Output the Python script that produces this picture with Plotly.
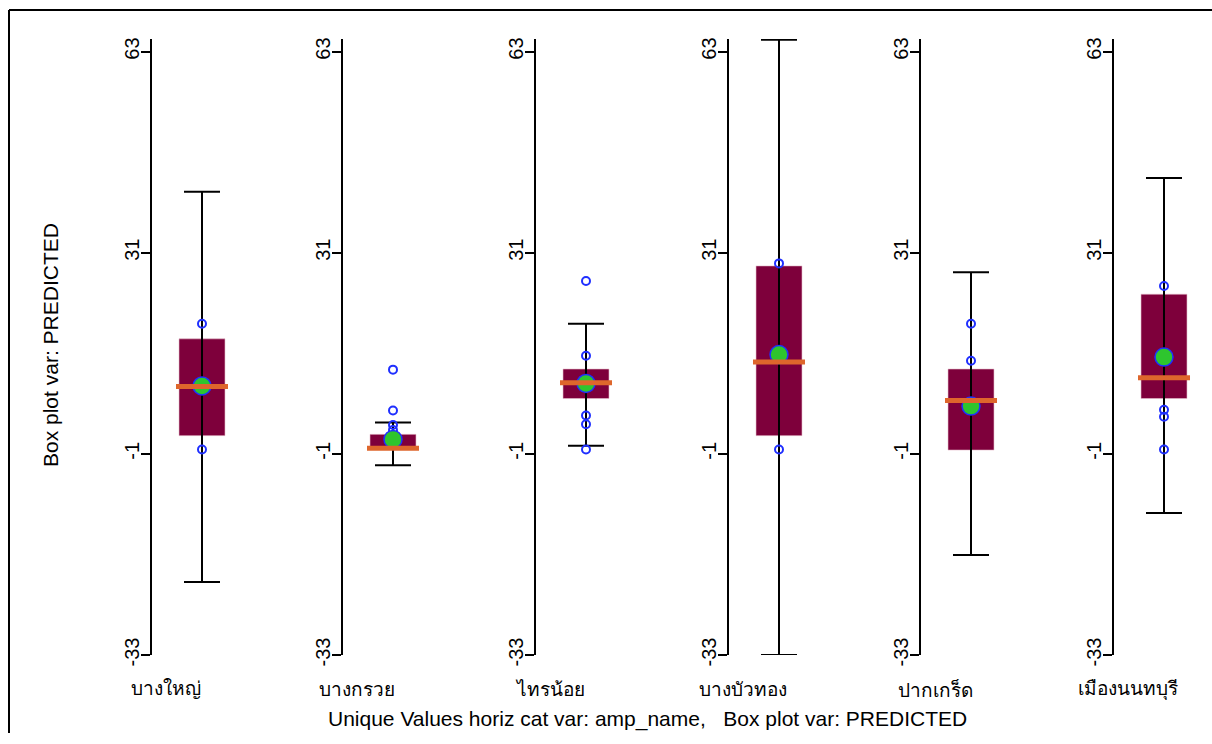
import plotly.graph_objects as go

categories = ["บางใหญ่", "บางกรวย", "ไทรน้อย", "บางบัวทอง", "ปากเกร็ด", "เมืองนนทบุรี"]
q1 = [1.9, -0.3, 7.8, 1.9, -0.4, 7.8]
median = [9.7, -0.1, 10.3, 13.6, 7.5, 11.1]
q3 = [17.3, 2.1, 12.5, 28.9, 12.5, 24.4]
lower_whisker = [-21.4, -2.8, 0.3, -33.0, -17.1, -10.4]
upper_whisker = [40.7, 4.0, 19.7, 64.9, 27.9, 42.9]
means = [9.8, 1.3, 10.2, 14.8, 6.6, 14.4]
points = [
    [19.7, -0.3],
    [12.4, 5.9, 3.6, 2.8],
    [26.5, 14.6, 5.1, 3.7, -0.3],
    [29.3, -0.3],
    [19.7, 13.8],
    [25.7, 6.0, 4.9, -0.3],
]
y_ticks = [-33, -1, 31, 63]
y_range = [-33, 65]
y_title = "Box plot var: PREDICTED"
x_title = "Unique Values horiz cat var: amp_name,   Box plot var: PREDICTED"

W, H = 1212, 744
VS = 744 / 732  # vertical compensation for the capture
axis_px = [152, 343, 536, 729, 921, 1114]
panel_w = 96


def py(p):
    return 1 - p * VS / H


y_dom = [py(654), py(38)]

BOX = "#7e003b"
MED = "#de662c"
GREEN = "#2ec52e"
BLUE = "#1f2fff"
FONT = "Liberation Sans, Arial, Helvetica, sans-serif"

fig = go.Figure()
layout = dict(
    width=W, height=H, margin=dict(l=0, r=0, t=0, b=0),
    paper_bgcolor="white", plot_bgcolor="white", showlegend=False,
    font=dict(family=FONT, size=20, color="black"),
)
annotations = []
for i, cat in enumerate(categories):
    n = i + 1
    xa = "x" if n == 1 else f"x{n}"
    ya = "y" if n == 1 else f"y{n}"
    layout[f"xaxis{'' if n == 1 else n}"] = dict(
        domain=[axis_px[i] / W, (axis_px[i] + panel_w) / W], range=[0, panel_w / 50],
        visible=False, anchor=ya,
    )
    layout[f"yaxis{'' if n == 1 else n}"] = dict(
        domain=y_dom, range=y_range, anchor=xa,
        tickvals=y_ticks, ticktext=[str(t) for t in y_ticks],
        tickangle=-90, ticks="outside", ticklen=9, tickwidth=2, tickcolor="black",
        showline=True, linewidth=2, linecolor="black",
        showgrid=False, zeroline=False, ticklabelstandoff=-6,
        tickfont=dict(size=20, family=FONT),
    )
    # box body
    fig.add_trace(go.Bar(
        x=[1], y=[q3[i] - q1[i]], base=[q1[i]], width=0.92,
        marker=dict(color=BOX, line=dict(width=0.6, color="#e8c0cc")),
        xaxis=xa, yaxis=ya, hoverinfo="skip",
    ))
    # whisker + caps
    fig.add_trace(go.Scatter(
        x=[1, 1, None, 0.64, 1.36, None, 0.64, 1.36],
        y=[lower_whisker[i], upper_whisker[i], None,
           lower_whisker[i], lower_whisker[i], None,
           upper_whisker[i], upper_whisker[i]],
        mode="lines", line=dict(color="black", width=2),
        xaxis=xa, yaxis=ya, hoverinfo="skip",
    ))
    # points
    fig.add_trace(go.Scatter(
        x=[1] * len(points[i]), y=points[i], mode="markers",
        marker=dict(symbol="circle-open", size=8, color=BLUE, line=dict(color=BLUE, width=2)),
        xaxis=xa, yaxis=ya, hoverinfo="skip",
    ))
    # mean
    fig.add_trace(go.Scatter(
        x=[1], y=[means[i]], mode="markers",
        marker=dict(size=18, color=GREEN, line=dict(color=BLUE, width=1.5)),
        xaxis=xa, yaxis=ya, hoverinfo="skip",
    ))
    # median
    fig.add_trace(go.Scatter(
        x=[0.48, 1.52], y=[median[i], median[i]], mode="lines",
        line=dict(color=MED, width=5),
        xaxis=xa, yaxis=ya, hoverinfo="skip",
    ))
    annotations.append(dict(
        text=cat, x=0.28, xref=xa, y=py(688), yref="paper",
        xanchor="center", yanchor="middle", showarrow=False,
        font=dict(size=19, family=FONT),
    ))

annotations.append(dict(
    text=y_title, x=50 / W, y=py(344), xref="paper", yref="paper",
    textangle=-90, showarrow=False, xanchor="center", yanchor="middle",
    font=dict(size=21, family=FONT),
))
annotations.append(dict(
    text=x_title, x=647 / W, y=py(718), xref="paper", yref="paper",
    showarrow=False, xanchor="center", yanchor="middle",
    font=dict(size=21, family=FONT),
))
layout["annotations"] = annotations
layout["shapes"] = [
    dict(type="line", xref="paper", yref="paper", x0=9 / W, x1=1, y0=py(9), y1=py(9),
         line=dict(color="black", width=2)),
    dict(type="line", xref="paper", yref="paper", x0=9 / W, x1=9 / W, y0=0, y1=py(9),
         line=dict(color="black", width=2)),
]
fig.update_layout(**layout)

post = (
    "var gd=document.getElementById('{plot_id}');"
    "var de=document.documentElement, b=document.body;"
    "de.style.margin='0';b.style.margin='0';de.style.padding='0';b.style.padding='0';"
    "de.style.overflow='hidden';b.style.overflow='hidden';"
    "gd.style.display='block';"
    "if(gd.parentElement){gd.parentElement.style.lineHeight='0';"
    "gd.parentElement.style.height='744px';gd.parentElement.style.overflow='hidden';}"
    "b.style.height='744px';de.style.height='744px';"
)
fig.write_html("out.html", config={"displayModeBar": False}, post_script=post)
